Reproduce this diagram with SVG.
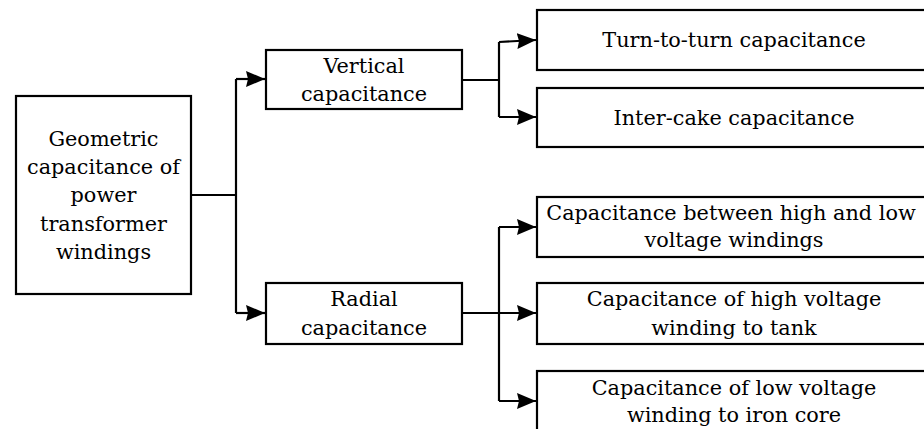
<svg xmlns="http://www.w3.org/2000/svg" width="924" height="429" viewBox="0 0 924 429">
<style>
.box{fill:#fff;stroke:#000;stroke-width:2.2}
.t{font-family:"DejaVu Serif","Liberation Serif",serif;font-size:20.8px;fill:#000;text-anchor:middle}
.c{fill:none;stroke:#000;stroke-width:2.2}
</style>
<defs>
<marker id="ah" markerUnits="userSpaceOnUse" markerWidth="19" markerHeight="18" refX="19" refY="9" orient="auto">
<path d="M0,1 L19,9 L0,17 L2,9 Z" fill="#000"/>
</marker>
</defs>
<rect width="924" height="429" fill="#fff"/>
<g id="connectors">
<path class="c" d="M191,195 H236"/>
<path class="c" d="M236,79 V313"/>
<path class="c" d="M236,79 H265" marker-end="url(#ah)"/>
<path class="c" d="M236,313 H265" marker-end="url(#ah)"/>
<path class="c" d="M462,80 H499"/>
<path class="c" d="M499,42 V117"/>
<path class="c" d="M499,42 L536,40" marker-end="url(#ah)"/>
<path class="c" d="M499,117 H536" marker-end="url(#ah)"/>
<path class="c" d="M462,313 H499"/>
<path class="c" d="M499,227 V401"/>
<path class="c" d="M499,227 H536" marker-end="url(#ah)"/>
<path class="c" d="M499,313 H536" marker-end="url(#ah)"/>
<path class="c" d="M499,401 H536" marker-end="url(#ah)"/>
</g>
<g id="root">
<rect class="box" x="16" y="96" width="175" height="198"/>
<text class="t" x="103.5" y="146">Geometric</text>
<text class="t" x="103.5" y="174">capacitance of</text>
<text class="t" x="103.5" y="202">power</text>
<text class="t" x="103.5" y="231">transformer</text>
<text class="t" x="103.5" y="259">windings</text>
</g>
<g id="vertical">
<rect class="box" x="266" y="50" width="196" height="59"/>
<text class="t" x="364" y="73">Vertical</text>
<text class="t" x="364" y="101">capacitance</text>
</g>
<g id="radial">
<rect class="box" x="266" y="283" width="196" height="61"/>
<text class="t" x="364" y="306">Radial</text>
<text class="t" x="364" y="335">capacitance</text>
</g>
<g id="turn">
<rect class="box" x="537" y="10" width="400" height="60"/>
<text class="t" x="734" y="47">Turn-to-turn capacitance</text>
</g>
<g id="intercake">
<rect class="box" x="537" y="88" width="400" height="59"/>
<text class="t" x="734" y="125">Inter-cake capacitance</text>
</g>
<g id="hl">
<rect class="box" x="537" y="197" width="400" height="60"/>
<text class="t" x="731" y="220">Capacitance between high and low</text>
<text class="t" x="734" y="247">voltage windings</text>
</g>
<g id="hvtank">
<rect class="box" x="537" y="283" width="400" height="61"/>
<text class="t" x="734" y="306">Capacitance of high voltage</text>
<text class="t" x="734" y="335">winding to tank</text>
</g>
<g id="lvcore">
<rect class="box" x="537" y="371" width="400" height="70"/>
<text class="t" x="734" y="395">Capacitance of low voltage</text>
<text class="t" x="734" y="422">winding to iron core</text>
</g>
</svg>
